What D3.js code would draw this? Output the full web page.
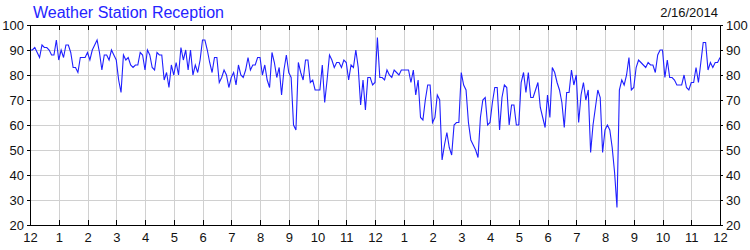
<!DOCTYPE html>
<html>
<head>
<meta charset="utf-8">
<script src="https://cdn.jsdelivr.net/npm/d3@7"></script>
<style>
  body { margin: 0; background: #fff; }
  svg { font-family: "Liberation Sans", Arial, sans-serif; }
</style>
</head>
<body>
<svg width="750" height="250"></svg>
<script>
const title = "Weather Station Reception";
const dateLabel = "2/16/2014";
const hourLabels = ["12","1","2","3","4","5","6","7","8","9","10","11","12","1","2","3","4","5","6","7","8","9","10","11","12"];
const yTicks = [20, 30, 40, 50, 60, 70, 80, 90, 100];
const samplesPerHour = 12; // one reading every 5 minutes

// reception %, one row per hour
const reception = [
  90, 90, 91, 89, 87, 92, 91, 91, 90, 88, 88, 94,
  86, 90, 87, 92, 92, 89, 83, 83, 81, 87, 87, 87,
  89, 86, 90, 92, 94, 89, 82, 88, 88, 86, 90, 88,
  86, 78, 73, 88, 86, 87, 84, 83, 84, 84, 89, 88,
  82, 90, 88, 83, 82, 89, 88, 88, 78, 81, 75, 84,
  80, 85, 80, 91, 86, 90, 82, 90, 80, 84, 81, 86,
  94, 94, 90, 85, 81, 87, 87, 77, 79, 82, 80, 75,
  79, 81, 76, 84, 80, 79, 82, 87, 82, 84, 84, 87,
  87, 80, 84, 78, 75, 89, 85, 79, 83, 72, 82, 88,
  81, 79, 60, 58, 85, 81, 78, 86, 86, 77, 78, 74,
  74, 74, 84, 69, 78, 88, 86, 83, 85, 85, 83, 86,
  85, 78, 84, 83, 90, 83, 68, 78, 66, 79, 79, 76,
  77, 95, 79, 79, 78, 82, 80, 79, 82, 81, 80, 82,
  82, 82, 82, 77, 82, 72, 78, 63, 62, 70, 76, 76,
  61, 63, 72, 70, 46, 52, 57, 51, 48, 60, 61, 61,
  81, 76, 74, 61, 54, 52, 50, 47, 63, 70, 71, 60,
  61, 69, 75, 75, 58, 71, 76, 75, 60, 68, 68, 60,
  60, 77, 81, 73, 81, 71, 71, 74, 77, 67, 63, 59,
  72, 63, 83, 81, 77, 74, 69, 59, 73, 73, 82, 76,
  80, 61, 72, 77, 70, 74, 49, 60, 67, 74, 71, 49,
  58, 60, 58, 51, 41, 27, 74, 78, 76, 80, 87, 74,
  75, 83, 86, 85, 84, 83, 85, 84, 84, 81, 88, 90,
  90, 79, 86, 79, 79, 78, 76, 76, 76, 80, 75, 74,
  77, 77, 83, 77, 85, 93, 93, 82, 85, 83, 85, 85,
  87
];

const svg = d3.select("svg");
const plotLeft = 30, plotRight = 720, plotTop = 25, plotBottom = 225;

const x = d3.scaleLinear().domain([0, 24]).range([plotLeft, plotRight]);
const y = d3.scaleLinear().domain([20, 100]).range([plotBottom, plotTop]);
const hours = d3.range(0, 25);

// grid
const grid = svg.append("g")
  .attr("stroke", "#d0d0d0")
  .attr("shape-rendering", "crispEdges");
grid.selectAll(".vg").data(hours.slice(1, -1)).join("line")
  .attr("x1", d => Math.round(x(d)) + 0.5).attr("x2", d => Math.round(x(d)) + 0.5)
  .attr("y1", plotTop).attr("y2", plotBottom);
grid.selectAll(".hg").data(yTicks.slice(1, -1)).join("line")
  .attr("x1", plotLeft).attr("x2", plotRight)
  .attr("y1", d => Math.round(y(d)) + 0.5).attr("y2", d => Math.round(y(d)) + 0.5);

// data line
const line = d3.line()
  .x((d, i) => x(i / samplesPerHour))
  .y(d => y(d));

svg.append("path")
  .datum(reception)
  .attr("fill", "none")
  .attr("stroke", "#1f1fff")
  .attr("stroke-width", 1.1)
  .attr("d", line);

// axes
function styleAxis(g) {
  g.selectAll("path, line").attr("stroke", "#000").attr("shape-rendering", "crispEdges");
  g.selectAll("text").attr("fill", "#111").style("font-size", "13px")
    .style("font-family", '"Liberation Sans", Arial, sans-serif');
}

svg.append("g")
  .attr("transform", `translate(0,${plotBottom})`)
  .call(d3.axisBottom(x).tickValues(hours)
    .tickFormat((d, i) => hourLabels[i])
    .tickSizeInner(-5).tickSizeOuter(0).tickPadding(8))
  .call(styleAxis);

svg.append("g")
  .attr("transform", `translate(0,${plotTop})`)
  .call(d3.axisTop(x).tickValues(hours).tickFormat("")
    .tickSizeInner(-5).tickSizeOuter(0))
  .call(styleAxis);

svg.append("g")
  .attr("transform", `translate(${plotLeft},0)`)
  .call(d3.axisLeft(y).tickValues(yTicks).tickSizeInner(3).tickSizeOuter(0).tickPadding(3))
  .call(styleAxis);

svg.append("g")
  .attr("transform", `translate(${plotRight},0)`)
  .call(d3.axisRight(y).tickValues(yTicks).tickSizeInner(3).tickSizeOuter(0).tickPadding(3))
  .call(styleAxis);

// header texts
svg.append("text")
  .attr("x", 33).attr("y", 18)
  .attr("fill", "#2424ff")
  .style("font-size", "16px")
  .text(title);

svg.append("text")
  .attr("x", 718).attr("y", 17)
  .attr("text-anchor", "end")
  .attr("fill", "#111")
  .style("font-size", "13px")
  .text(dateLabel);
</script>
</body>
</html>
